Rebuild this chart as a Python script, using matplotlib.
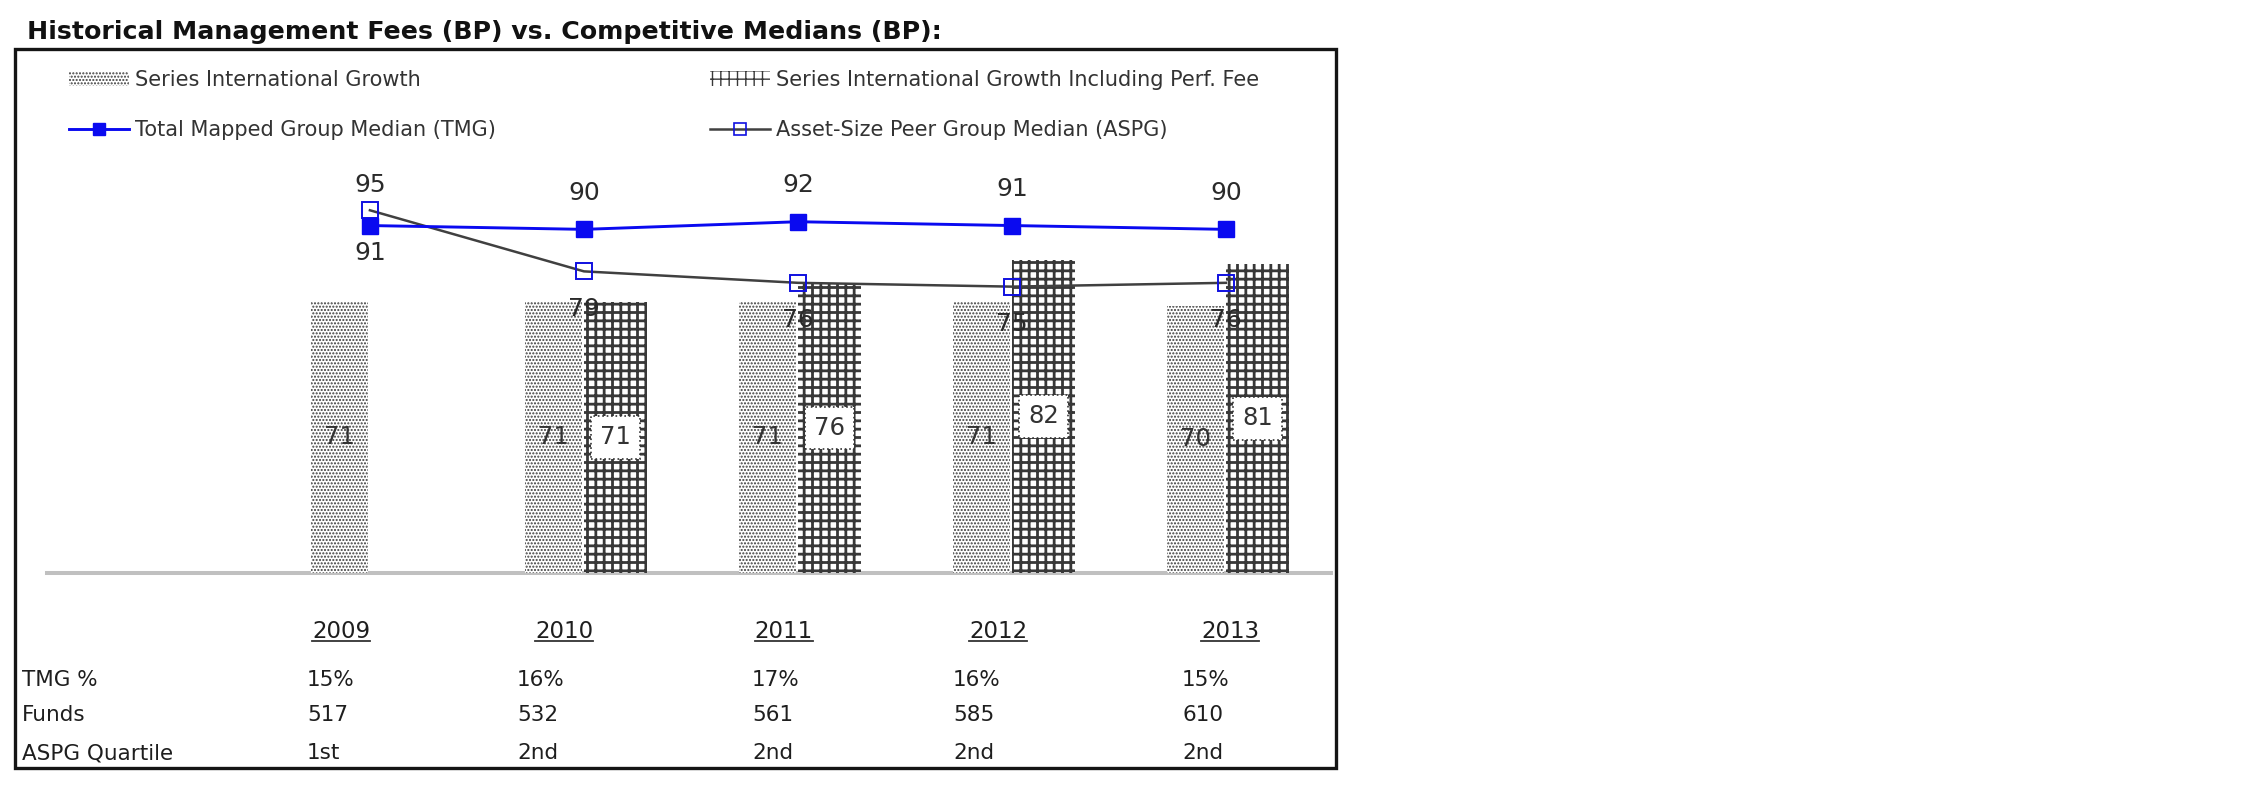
import numpy as np
import matplotlib.pyplot as plt
from matplotlib.patches import Patch, Rectangle
from matplotlib.lines import Line2D

# ----- data -----
years = ["2009", "2010", "2011", "2012", "2013"]
sig = [71, 71, 71, 71, 70]                      # Series International Growth
sig_perf = [np.nan, 71, 76, 82, 81]              # ... Including Perf. Fee
tmg = [91, 90, 92, 91, 90]                       # Total Mapped Group Median
aspg = [95, 79, 76, 75, 76]                      # Asset-Size Peer Group Median
tmg_pct = ["15%", "16%", "17%", "16%", "15%"]
funds = [517, 532, 561, 585, 610]
quartile = ["1st", "2nd", "2nd", "2nd", "2nd"]

W, H = 2250, 796


def fx(px):
    return px / W


def fy(py):
    return 1 - py / H


TXT = "#1e1e1e"
BLUE = "#0a0af0"

fig = plt.figure(figsize=(22.5, 7.96), dpi=100)
ax = fig.add_axes([fx(47), fy(573), fx(1331) - fx(47), (573 - 153) / H])
x = np.arange(len(years))

# ----- bars -----
with plt.rc_context({"hatch.linewidth": 1.0}):
    b1 = ax.bar(x - 0.01, sig, width=-0.265, align="edge", color="white",
                edgecolor="#3c3c3c", linewidth=0, hatch=".....", zorder=2)
    h1 = Patch(facecolor="white", edgecolor="#3c3c3c", linewidth=0, hatch=".....")
with plt.rc_context({"hatch.linewidth": 2.0}):
    b2 = ax.bar(x, sig_perf, width=0.295, align="edge", color="white",
                edgecolor="#383838", linewidth=0, hatch="++", zorder=2)
    h2 = Patch(facecolor="white", edgecolor="#383838", linewidth=0, hatch="++")

ax.bar_label(b1, labels=[f"{v:.0f}" for v in sig], label_type="center",
             fontsize=17.5, color="#333333")
ax.bar_label(b2, labels=["" if np.isnan(v) else f"{v:.0f}" for v in sig_perf],
             label_type="center", fontsize=17.5, color="#333333",
             bbox=dict(boxstyle="square,pad=0.38", fc="white", ec="#333333",
                       ls=":", lw=1.2))

# ----- lines -----
ax.plot(x, aspg, color="#404040", lw=1.8, marker="s", ms=12, mfc="none",
        mec="#1010e0", mew=1.4, zorder=3)
ax.plot(x, tmg, color=BLUE, lw=2.1, marker="s", ms=12, mfc=BLUE, mec=BLUE,
        zorder=4)

for i in x:
    above = tmg[i] >= aspg[i]
    ax.annotate(str(tmg[i]), (i, tmg[i]), xytext=(0, 26.5 if above else -20),
                textcoords="offset points", ha="center", va="center",
                fontsize=18, color="#2a2a2a")
    ax.annotate(str(aspg[i]), (i, aspg[i]), xytext=(0, -27 if above else 18),
                textcoords="offset points", ha="center", va="center",
                fontsize=18, color="#2a2a2a")

ax.axhline(0, color="#c0c0c0", lw=2.9, clip_on=False, zorder=1)
ax.set_xlim(-1.509, 4.491)
ax.set_ylim(0, 110)
ax.axis("off")

# ----- frame and title -----
fig.add_artist(Rectangle((fx(15), fy(768)), fx(1336) - fx(15), (768 - 49) / H,
                         transform=fig.transFigure, fill=False,
                         ec="#151515", lw=2.4))
fig.text(fx(27), fy(39), "Historical Management Fees (BP) vs. Competitive Medians (BP):",
         fontsize=18.2, weight="bold", va="baseline", color="#111111")

# ----- legend -----
h3 = Line2D([], [], color=BLUE, lw=2.1, marker="s", ms=8, mfc=BLUE, mec=BLUE)
h4 = Line2D([], [], color="#404040", lw=1.8, marker="s", ms=8, mfc="none",
            mec="#1010e0", mew=1.2)
fig.legend([h1, h3, h2, h4],
           ["Series International Growth", "Total Mapped Group Median (TMG)",
            "Series International Growth Including Perf. Fee",
            "Asset-Size Peer Group Median (ASPG)"],
           ncol=2, loc="upper left", bbox_to_anchor=(fx(69), fy(70)),
           frameon=False, fontsize=15, handlelength=2.9, handletextpad=0.25,
           columnspacing=10.3, labelspacing=1.45, borderpad=0, borderaxespad=0,
           labelcolor="#333333")

# ----- table under the chart -----
year_x = [341, 564, 784, 998, 1230]
col_x = [307, 517, 752, 953, 1182]
year_txt = [fig.text(fx(px), fy(631), yr, ha="center", va="center",
                     fontsize=16.5, color=TXT) for px, yr in zip(year_x, years)]

rows = [("TMG %", tmg_pct, 680), ("Funds", [str(f) for f in funds], 715),
        ("ASPG Quartile", quartile, 753)]
for label, vals, py in rows:
    fig.text(fx(22), fy(py), label, ha="left", va="center", fontsize=15.5, color=TXT)
    for px, v in zip(col_x, vals):
        fig.text(fx(px), fy(py), v, ha="left", va="center", fontsize=15.5, color=TXT)

# underline the years
fig.canvas.draw()
inv = fig.transFigure.inverted()
for t in year_txt:
    bb = t.get_window_extent()
    x0, _ = inv.transform((bb.x0, 0))
    x1, _ = inv.transform((bb.x1, 0))
    fig.add_artist(Line2D([x0, x1], [fy(641), fy(641)], transform=fig.transFigure,
                          color="#333333", lw=1.3))

fig.savefig("out.png", dpi=100)
